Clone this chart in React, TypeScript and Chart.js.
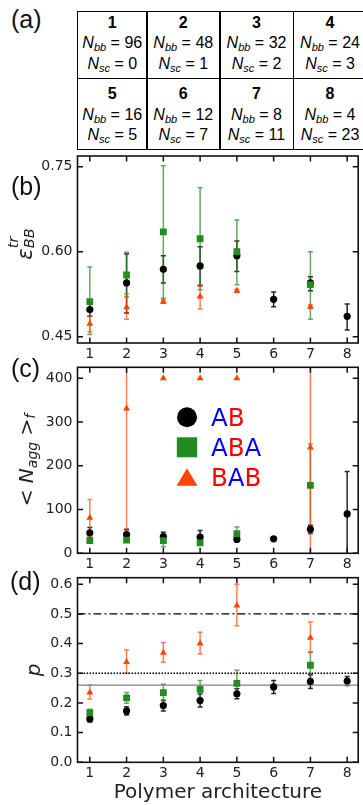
import React, { useEffect, useRef } from "react";
import { Chart, registerables } from "chart.js";

Chart.register(...registerables);

// ---------------- data ----------------
const architectures = [1, 2, 3, 4, 5, 6, 7, 8];
const nBackbone = [96, 48, 32, 24, 16, 12, 8, 4];
const nSideChain = [0, 1, 2, 3, 5, 7, 11, 23];
const seriesNames = ["AB", "ABA", "BAB"];
const xRange = [0.665, 8.3];

// (b) epsilon_BB^tr
const epsTicks = [0.45, 0.6, 0.75];
const epsRange = [0.439, 0.769];
const epsAB = [0.498, 0.545, 0.569, 0.575, 0.593, 0.516, 0.545, 0.486];
const epsABLow = [0.486, 0.492, 0.545, 0.54, 0.565, 0.503, 0.531, 0.462];
const epsABHigh = [0.508, 0.596, 0.593, 0.609, 0.619, 0.529, 0.556, 0.508];
const epsABA = [0.512, 0.559, 0.635, 0.623, 0.6, null, 0.542, null];
const epsABALow = [0.454, 0.52, 0.518, 0.533, 0.542, null, 0.481, null];
const epsABAHigh = [0.573, 0.599, 0.752, 0.713, 0.656, null, 0.6, null];
const epsBAB = [0.473, 0.502, 0.512, 0.521, 0.531, null, 0.503, null];
const epsBABLow = [0.459, 0.481, 0.509, 0.499, 0.528, null, 0.5, null];
const epsBABHigh = [0.486, 0.526, 0.515, 0.542, 0.534, null, 0.506, null];

// (c) <N_agg>_f
const naggTicks = [0, 100, 200, 300, 400];
const naggRange = [0, 425];
const naggAB = [47, 43, 38, 37, 32, 33, 55, 90];
const naggABLow = [36, 32, 28, 22, 26, 29, 45, -10];
const naggABHigh = [59, 55, 48, 52, 38, 37, 64, 187];
const naggABA = [29, 30, 29, 24, 45, null, 155, null];
const naggABALow = [24, 26, 15, 19, 30, null, 60, null];
const naggABAHigh = [34, 34, 39, 29, 60, null, 250, null];
const naggBAB = [81, 331, 400, 400, 400, null, 242, null];
const naggBABLow = [39, 52, null, null, null, null, -60, null];
const naggBABHigh = [123, 610, null, null, null, null, 544, null];

// (d) p
const pTicks = [0, 0.1, 0.2, 0.3, 0.4, 0.5, 0.6];
const pRange = [0, 0.622];
const pAB = [0.146, 0.173, 0.191, 0.208, 0.231, 0.254, 0.272, 0.274];
const pABLow = [0.136, 0.159, 0.173, 0.186, 0.214, 0.232, 0.249, 0.259];
const pABHigh = [0.156, 0.187, 0.209, 0.23, 0.248, 0.276, 0.295, 0.289];
const pABA = [0.167, 0.217, 0.235, 0.246, 0.266, null, 0.327, null];
const pABALow = [0.155, 0.199, 0.207, 0.216, 0.222, null, 0.282, null];
const pABAHigh = [0.179, 0.235, 0.263, 0.276, 0.31, null, 0.372, null];
const pBAB = [0.235, 0.338, 0.369, 0.4, 0.528, null, 0.42, null];
const pBABLow = [0.213, 0.3, 0.337, 0.365, 0.46, null, 0.37, null];
const pBABHigh = [0.26, 0.378, 0.404, 0.438, 0.6, null, 0.473, null];
const pRefLines = [0.5, 0.3, 0.26];

// ---------------- styles ----------------
const FONT = '"DejaVu Sans", sans-serif';
const LABEL_FONT = '"Liberation Sans", Arial, sans-serif';
const TICK_COLOR = "#222";
const seriesStyles = [
  { color: "#000000", err: "rgba(0,0,0,0.85)", pointStyle: "circle", radius: 3.6 },
  { color: "#228B22", err: "rgba(34,139,34,0.72)", pointStyle: "rect", radius: 4.8 },
  { color: "#FF4500", err: "rgba(255,69,0,0.68)", pointStyle: "triangle", radius: 4 },
];
const refLineStyles = [
  { color: "#000", dash: [8, 3, 2, 3], width: 1.2 },
  { color: "#000", dash: [1.5, 1.5], width: 1.5 },
  { color: "#808080", dash: [], width: 1.2 },
];
const letterColors: Record<string, string> = { A: "#0000FF", B: "#FF0000" };

// ---------------- plugins ----------------
const errorBarPlugin = {
  id: "errorBars",
  beforeDatasetsDraw(chart: any) {
    const { ctx, chartArea: a, scales } = chart;
    const xs = scales.x;
    const ys = scales.y;
    ctx.save();
    ctx.beginPath();
    ctx.rect(a.left, a.top, a.right - a.left, a.bottom - a.top);
    ctx.clip();
    chart.data.datasets.forEach((ds: any) => {
      const lo = ds.errLow;
      const hi = ds.errHigh;
      if (!lo || !hi) return;
      ctx.strokeStyle = ds.errColor;
      ctx.lineWidth = 1.5;
      architectures.forEach((c, i) => {
        if (lo[i] == null || hi[i] == null) return;
        const px = xs.getPixelForValue(c);
        const y1 = ys.getPixelForValue(lo[i]);
        const y2 = ys.getPixelForValue(hi[i]);
        ctx.beginPath();
        ctx.moveTo(px, y1);
        ctx.lineTo(px, y2);
        ctx.moveTo(px - 2.5, y1);
        ctx.lineTo(px + 2.5, y1);
        ctx.moveTo(px - 2.5, y2);
        ctx.lineTo(px + 2.5, y2);
        ctx.stroke();
      });
    });
    ctx.restore();
  },
};

const framePlugin = {
  id: "frameTicks",
  afterDraw(chart: any) {
    const { ctx, chartArea: a, scales } = chart;
    const xs = scales.x;
    const ys = scales.y;
    const L = 5.5;
    ctx.save();
    ctx.strokeStyle = "#111";
    ctx.lineWidth = 1.5;
    ctx.beginPath();
    xs.ticks.forEach((t: any) => {
      const px = xs.getPixelForValue(t.value);
      ctx.moveTo(px, a.bottom);
      ctx.lineTo(px, a.bottom - L);
      ctx.moveTo(px, a.top);
      ctx.lineTo(px, a.top + L);
    });
    ys.ticks.forEach((t: any) => {
      const py = ys.getPixelForValue(t.value);
      ctx.moveTo(a.left, py);
      ctx.lineTo(a.left + L, py);
      ctx.moveTo(a.right, py);
      ctx.lineTo(a.right - L, py);
    });
    ctx.stroke();
    ctx.lineWidth = 1.6;
    ctx.strokeRect(a.left, a.top, a.right - a.left, a.bottom - a.top);
    ctx.restore();
  },
};

const refLinePlugin = {
  id: "refLines",
  beforeDatasetsDraw(chart: any) {
    const { ctx, chartArea: a, scales } = chart;
    const ys = scales.y;
    ctx.save();
    pRefLines.forEach((v, i) => {
      const st = refLineStyles[i];
      const py = ys.getPixelForValue(v);
      ctx.strokeStyle = st.color;
      ctx.lineWidth = st.width;
      ctx.setLineDash(st.dash);
      ctx.beginPath();
      ctx.moveTo(a.left, py);
      ctx.lineTo(a.right, py);
      ctx.stroke();
    });
    ctx.restore();
  },
};

const blockLegendPlugin = {
  id: "blockLegend",
  afterDatasetsDraw(chart: any) {
    const { ctx, chartArea: a } = chart;
    const mx = a.left + 109.5;
    const tx = a.left + 133.5;
    ctx.save();
    seriesNames.forEach((name, k) => {
      const cy = a.top + 50 + k * 30;
      const st = seriesStyles[k];
      ctx.fillStyle = st.color;
      ctx.beginPath();
      if (st.pointStyle === "circle") {
        ctx.arc(mx, cy, 10, 0, Math.PI * 2);
      } else if (st.pointStyle === "rect") {
        ctx.rect(mx - 10.2, cy - 10, 20.4, 20);
      } else {
        ctx.moveTo(mx, cy - 9);
        ctx.lineTo(mx + 10.4, cy + 8.5);
        ctx.lineTo(mx - 10.4, cy + 8.5);
        ctx.closePath();
      }
      ctx.fill();
      ctx.font = `24.5px ${FONT}`;
      ctx.textBaseline = "alphabetic";
      let x = tx;
      for (const ch of name) {
        ctx.fillStyle = letterColors[ch];
        ctx.fillText(ch, x, cy + 8.9);
        x += ctx.measureText(ch).width;
      }
    });
    ctx.restore();
  },
};

// ---------------- chart builder ----------------
type Series = { val: (number | null)[]; low: (number | null)[]; high: (number | null)[] };
type PanelSpec = {
  series: Series[];
  yRange: number[];
  yTicks: number[];
  yDigits: number;
  padTop: number;
  xHeight: number;
  xTitle?: string;
  extraPlugins: any[];
};

function buildChart(canvas: HTMLCanvasElement, p: PanelSpec) {
  const datasets = p.series.map((s, k) => ({
    label: seriesNames[k],
    data: architectures
      .map((a, i) => ({ x: a, y: s.val[i] }))
      .filter((pt) => pt.y != null),
    pointStyle: seriesStyles[k].pointStyle,
    pointRadius: seriesStyles[k].radius,
    backgroundColor: seriesStyles[k].color,
    borderColor: seriesStyles[k].color,
    borderWidth: 0,
    showLine: false,
    order: 3 - k,
    errLow: s.low,
    errHigh: s.high,
    errColor: seriesStyles[k].err,
  }));
  const tickFont = { family: FONT, size: 14 };
  return new Chart(canvas, {
    type: "scatter",
    data: { datasets } as any,
    options: {
      animation: false,
      responsive: false,
      maintainAspectRatio: false,
      devicePixelRatio: 1,
      events: [],
      layout: { padding: { top: p.padTop, right: 1.3, bottom: 0, left: 0 } },
      plugins: { legend: { display: false }, tooltip: { enabled: false } },
      scales: {
        x: {
          type: "linear",
          bounds: "data",
          min: xRange[0],
          max: xRange[1],
          grid: { display: false, drawTicks: false },
          border: { display: false },
          ticks: {
            padding: 2.5,
            autoSkip: false,
            maxRotation: 0,
            color: TICK_COLOR,
            font: tickFont,
            callback: (v: any) => String(v),
          },
          afterBuildTicks: (s: any) => {
            s.ticks = architectures.map((v) => ({ value: v }));
          },
          afterFit: (s: any) => {
            s.height = p.xHeight;
            s.paddingLeft = 0;
            s.paddingRight = 0;
          },
          title: p.xTitle
            ? {
                display: true,
                text: p.xTitle,
                color: "#222",
                font: { family: FONT, size: 20 },
                padding: { top: 0, bottom: 0 },
              }
            : { display: false },
        },
        y: {
          type: "linear",
          bounds: "data",
          min: p.yRange[0],
          max: p.yRange[1],
          grid: { display: false, drawTicks: false },
          border: { display: false },
          ticks: {
            padding: 5,
            autoSkip: false,
            color: TICK_COLOR,
            font: tickFont,
            callback: (v: any) => Number(v).toFixed(p.yDigits),
          },
          afterBuildTicks: (s: any) => {
            s.ticks = p.yTicks.map((v) => ({ value: v }));
          },
          afterFit: (s: any) => {
            s.width = 77.5;
            s.paddingTop = 0;
            s.paddingBottom = 0;
          },
        },
      },
    } as any,
    plugins: [errorBarPlugin, ...p.extraPlugins, framePlugin],
  });
}

function ChartPanel({ top, height, spec }: { top: number; height: number; spec: PanelSpec }) {
  const ref = useRef<HTMLCanvasElement>(null);
  useEffect(() => {
    if (!ref.current) return;
    const chart = buildChart(ref.current, spec);
    return () => chart.destroy();
  }, []);
  return (
    <canvas
      ref={ref}
      width={363}
      height={height}
      style={{ position: "absolute", left: 0, top, width: 363, height }}
    />
  );
}

const specB: PanelSpec = {
  series: [
    { val: epsAB, low: epsABLow, high: epsABHigh },
    { val: epsABA, low: epsABALow, high: epsABAHigh },
    { val: epsBAB, low: epsBABLow, high: epsBABHigh },
  ],
  yRange: epsRange,
  yTicks: epsTicks,
  yDigits: 2,
  padTop: 6,
  xHeight: 22,
  extraPlugins: [],
};

const specC: PanelSpec = {
  series: [
    { val: naggAB, low: naggABLow, high: naggABHigh },
    { val: naggABA, low: naggABALow, high: naggABAHigh },
    { val: naggBAB, low: naggBABLow, high: naggBABHigh },
  ],
  yRange: naggRange,
  yTicks: naggTicks,
  yDigits: 0,
  padTop: 6.3,
  xHeight: 21.7,
  extraPlugins: [blockLegendPlugin],
};

const specD: PanelSpec = {
  series: [
    { val: pAB, low: pABLow, high: pABHigh },
    { val: pABA, low: pABALow, high: pABAHigh },
    { val: pBAB, low: pBABLow, high: pBABHigh },
  ],
  yRange: pRange,
  yTicks: pTicks,
  yDigits: 1,
  padTop: 6.7,
  xHeight: 42.7,
  xTitle: "Polymer architecture",
  extraPlugins: [refLinePlugin],
};

// ---------------- table (a) ----------------
const colEdges = [77.75, 146.75, 219.75, 293.25, 366.75];
const rowEdges = [11.75, 78.25, 149.25];
const subStyle: React.CSSProperties = {
  fontSize: 11,
  fontStyle: "italic",
  verticalAlign: "-3px",
  lineHeight: 0,
};

function ArchTable() {
  const cells: React.ReactNode[] = [];
  for (let r = 0; r < 2; r++) {
    for (let c = 0; c < 4; c++) {
      const i = r * 4 + c;
      const left = colEdges[c] - 0.75;
      const top = rowEdges[r] - 0.75;
      const width = colEdges[c + 1] - colEdges[c] + 1.5;
      const height = rowEdges[r + 1] - rowEdges[r] + 1.5;
      cells.push(
        <div
          key={i}
          style={{
            position: "absolute",
            left,
            top,
            width,
            height,
            boxSizing: "border-box",
            border: "1.5px solid #000",
            display: "flex",
            flexDirection: "column",
            justifyContent: "center",
            alignItems: "center",
            fontFamily: LABEL_FONT,
            fontSize: 16,
            lineHeight: "20.5px",
            color: "#000",
            whiteSpace: "nowrap",
            paddingBottom: r === 0 ? 3 : 0,
            paddingTop: r === 1 ? 2 : 0,
          }}
        >
          <div style={{ fontWeight: "bold" }}>{architectures[i]}</div>
          <div>
            <i>N</i>
            <sub style={subStyle}>bb</sub> = {nBackbone[i]}
          </div>
          <div>
            <i>N</i>
            <sub style={subStyle}>sc</sub> = {nSideChain[i]}
          </div>
        </div>
      );
    }
  }
  return <>{cells}</>;
}

function PanelLabel({ text, left, top }: { text: string; left: number; top: number }) {
  return (
    <div
      style={{
        position: "absolute",
        left,
        top,
        fontFamily: LABEL_FONT,
        fontSize: 25,
        lineHeight: "25px",
        color: "#111",
        whiteSpace: "nowrap",
      }}
    >
      {text}
    </div>
  );
}

function RotatedLabel({ cx, cy, children }: { cx: number; cy: number; children: React.ReactNode }) {
  return (
    <div
      style={{
        position: "absolute",
        left: cx,
        top: cy,
        transform: "translate(-50%, -50%) rotate(-90deg)",
        fontFamily: FONT,
        fontSize: 20,
        lineHeight: 1,
        color: "#222",
        whiteSpace: "nowrap",
      }}
    >
      {children}
    </div>
  );
}

export default function App() {
  return (
    <div
      style={{
        position: "absolute",
        left: 0,
        top: 0,
        width: 363,
        height: 805,
        overflow: "hidden",
        background: "#fff",
      }}
    >
      <ArchTable />
      <ChartPanel top={150} height={215} spec={specB} />
      <ChartPanel top={361} height={214} spec={specC} />
      <ChartPanel top={571} height={234} spec={specD} />

      <PanelLabel text="(a)" left={11} top={6.8} />
      <PanelLabel text="(b)" left={11} top={173.8} />
      <PanelLabel text="(c)" left={11} top={356.3} />
      <PanelLabel text="(d)" left={10} top={568.8} />

      <RotatedLabel cx={21} cy={244}>
        <span style={{ fontSize: 21, fontStyle: "italic" }}>ε</span>
        <span
          style={{
            display: "inline-block",
            verticalAlign: "-2px",
            fontSize: 14.5,
            lineHeight: "16px",
            fontStyle: "italic",
            textAlign: "left",
          }}
        >
          <span style={{ display: "block" }}>tr</span>
          <span style={{ display: "block" }}>BB</span>
        </span>
      </RotatedLabel>
      <RotatedLabel cx={26} cy={460}>
        {"< "}
        <i>N</i>
        <sub style={{ fontSize: 14, fontStyle: "italic", verticalAlign: "-4px", lineHeight: 0 }}>agg</sub>
        {" >"}
        <sub style={{ fontSize: 14, fontStyle: "italic", verticalAlign: "-2px", lineHeight: 0 }}>f</sub>
      </RotatedLabel>
      <RotatedLabel cx={33} cy={670}>
        <i>p</i>
      </RotatedLabel>
    </div>
  );
}
